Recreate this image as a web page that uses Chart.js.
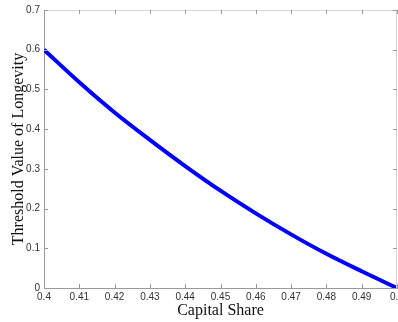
<!DOCTYPE html>
<html>
<head>
<meta charset="utf-8">
<script src="https://cdn.jsdelivr.net/npm/chart.js@4"></script>
<style>
  html, body { margin: 0; padding: 0; background: #fff; }
</style>
</head>
<body>
<canvas id="chart" width="398" height="322"></canvas>
<script>
// Data

const capitalShare = [0.40, 0.41, 0.42, 0.43, 0.44, 0.45, 0.46, 0.47, 0.48, 0.49, 0.50];
const threshold    = [0.600, 0.518, 0.442, 0.373, 0.307, 0.245, 0.188, 0.135, 0.086, 0.042, 0.000];

const xTicks = [0.40, 0.41, 0.42, 0.43, 0.44, 0.45, 0.46, 0.47, 0.48, 0.49, 0.50];
const yTicks = [0, 0.1, 0.2, 0.3, 0.4, 0.5, 0.6, 0.7];

// Box on top / right and inward tick marks (MATLAB style)

const boxTicks = {
    id: 'boxTicks',
    afterDraw(chart) {
        const {ctx, chartArea: a, scales: {x, y}} = chart;
        const len = 4;
        ctx.save();
        ctx.lineWidth = 1;

        ctx.strokeStyle = '#d4d4d4';
        ctx.beginPath();
        ctx.moveTo(a.left, a.top + 0.5);
        ctx.lineTo(a.right - 0.5, a.top + 0.5);
        ctx.lineTo(a.right - 0.5, a.bottom);
        ctx.stroke();

        ctx.strokeStyle = '#9a9a9a';
        ctx.beginPath();
        x.ticks.forEach(t => {
            const px = Math.round(x.getPixelForValue(t.value)) + 0.5;
            ctx.moveTo(px, a.bottom); ctx.lineTo(px, a.bottom - len);
            ctx.moveTo(px, a.top); ctx.lineTo(px, a.top + len);
        });
        y.ticks.forEach(t => {
            const py = Math.round(y.getPixelForValue(t.value)) + 0.5;
            ctx.moveTo(a.left, py); ctx.lineTo(a.left + len, py);
            ctx.moveTo(a.right, py); ctx.lineTo(a.right - len, py);
        });
        ctx.stroke();
        ctx.restore();
    }
};

const tickFont = {family: 'Liberation Sans, Arial, sans-serif', size: 10};
const titleFont = {family: 'Liberation Serif, Times New Roman, serif', size: 16};

const canvas = document.getElementById('chart');

let thresholdChart = new Chart(canvas, {
    type: 'line',
    data: {
        datasets: [{
            data: capitalShare.map((v, i) => ({x: v, y: threshold[i]})),
            borderColor: '#0000ff',
            borderWidth: 4,
            pointRadius: 0,
            cubicInterpolationMode: 'monotone',
            fill: false
        }]
    },
    options: {
        responsive: false,
        animation: false,
        layout: {
            padding: {top: 10, right: 1, left: 0, bottom: 0}
        },
        plugins: {
            legend: {display: false},
            tooltip: {enabled: false}
        },
        scales: {
            x: {
                type: 'linear',
                min: 0.4,
                max: 0.5,
                afterBuildTicks: (scale) => {
                    scale.ticks = xTicks.map(v => ({value: v}));
                },
                afterFit: (scale) => {
                    scale.paddingRight = 0;
                    scale.paddingLeft = 0;
                    scale.height = 34;
                },
                grid: {display: false, drawTicks: false},
                border: {display: true, color: '#9a9a9a'},
                ticks: {
                    font: tickFont,
                    color: '#333',
                    padding: 3,
                    maxRotation: 0,
                    autoSkip: false,
                    callback: (v) => String(+v.toFixed(2))
                },
                title: {
                    display: true,
                    text: 'Capital Share',
                    font: titleFont,
                    color: '#111',
                    padding: {top: 0, bottom: 2}
                }
            },
            y: {
                min: 0,
                max: 0.7,
                afterBuildTicks: (scale) => {
                    scale.ticks = yTicks.map(v => ({value: v}));
                },
                afterFit: (scale) => {
                    scale.width = 44;
                    scale.paddingTop = 0;
                },
                grid: {display: false, drawTicks: false},
                border: {display: true, color: '#9a9a9a'},
                ticks: {
                    font: tickFont,
                    color: '#333',
                    padding: 4,
                    callback: (v) => String(+v.toFixed(1))
                },
                title: {
                    display: true,
                    text: 'Threshold Value of Longevity',
                    font: titleFont,
                    color: '#111',
                    padding: {top: 9, bottom: 0}
                }
            }
        }
    },
    plugins: [boxTicks]
});
</script>
</body>
</html>
